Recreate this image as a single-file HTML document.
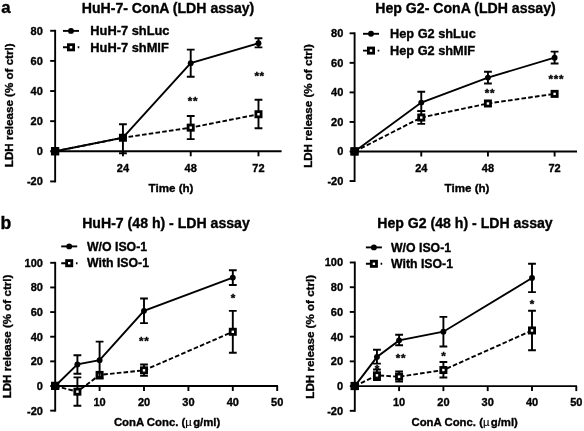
<!DOCTYPE html>
<html><head><meta charset="utf-8"><title>LDH assay</title>
<style>html,body{margin:0;padding:0;background:#fff;}svg{display:block;will-change:transform;}</style></head>
<body><svg width="584" height="431" viewBox="0 0 584 431">
<rect width="584" height="431" fill="#fff"/>
<path d="M55.15 29.83 V182.38" stroke="#000" stroke-width="1.9" fill="none"/>
<path d="M50.15 181.43 H55.15" stroke="#000" stroke-width="1.9" fill="none"/>
<text x="42.85" y="185.33" font-size="11" text-anchor="end" font-family="'Liberation Sans', sans-serif" font-weight="bold" stroke="#000" stroke-width="0.35" stroke-linejoin="round" fill="#000" >-20</text>
<path d="M50.15 151.30 H55.15" stroke="#000" stroke-width="1.9" fill="none"/>
<text x="42.85" y="155.20" font-size="11" text-anchor="end" font-family="'Liberation Sans', sans-serif" font-weight="bold" stroke="#000" stroke-width="0.35" stroke-linejoin="round" fill="#000" >0</text>
<path d="M50.15 121.17 H55.15" stroke="#000" stroke-width="1.9" fill="none"/>
<text x="42.85" y="125.07" font-size="11" text-anchor="end" font-family="'Liberation Sans', sans-serif" font-weight="bold" stroke="#000" stroke-width="0.35" stroke-linejoin="round" fill="#000" >20</text>
<path d="M50.15 91.04 H55.15" stroke="#000" stroke-width="1.9" fill="none"/>
<text x="42.85" y="94.94" font-size="11" text-anchor="end" font-family="'Liberation Sans', sans-serif" font-weight="bold" stroke="#000" stroke-width="0.35" stroke-linejoin="round" fill="#000" >40</text>
<path d="M50.15 60.91 H55.15" stroke="#000" stroke-width="1.9" fill="none"/>
<text x="42.85" y="64.81" font-size="11" text-anchor="end" font-family="'Liberation Sans', sans-serif" font-weight="bold" stroke="#000" stroke-width="0.35" stroke-linejoin="round" fill="#000" >60</text>
<path d="M50.15 30.78 H55.15" stroke="#000" stroke-width="1.9" fill="none"/>
<text x="42.85" y="34.68" font-size="11" text-anchor="end" font-family="'Liberation Sans', sans-serif" font-weight="bold" stroke="#000" stroke-width="0.35" stroke-linejoin="round" fill="#000" >80</text>
<path d="M55.15 151.30 H281.60" stroke="#000" stroke-width="1.9" fill="none"/>
<path d="M122.93 151.30 V156.30" stroke="#000" stroke-width="1.9" fill="none"/>
<text x="122.93" y="171.70" font-size="11" text-anchor="middle" font-family="'Liberation Sans', sans-serif" font-weight="bold" stroke="#000" stroke-width="0.35" stroke-linejoin="round" fill="#000" >24</text>
<path d="M190.71 151.30 V156.30" stroke="#000" stroke-width="1.9" fill="none"/>
<text x="190.71" y="171.70" font-size="11" text-anchor="middle" font-family="'Liberation Sans', sans-serif" font-weight="bold" stroke="#000" stroke-width="0.35" stroke-linejoin="round" fill="#000" >48</text>
<path d="M258.49 151.30 V156.30" stroke="#000" stroke-width="1.9" fill="none"/>
<text x="258.49" y="171.70" font-size="11" text-anchor="middle" font-family="'Liberation Sans', sans-serif" font-weight="bold" stroke="#000" stroke-width="0.35" stroke-linejoin="round" fill="#000" >72</text>
<text x="168.00" y="13.00" font-size="14.1" text-anchor="middle" font-family="'Liberation Sans', sans-serif" font-weight="bold" stroke="#000" stroke-width="0.35" stroke-linejoin="round" fill="#000" >HuH-7- ConA (LDH assay)</text>
<text x="171.00" y="191.90" font-size="11.6" text-anchor="middle" font-family="'Liberation Sans', sans-serif" font-weight="bold" stroke="#000" stroke-width="0.35" stroke-linejoin="round" fill="#000" >Time (h)</text>
<text transform="translate(13.2,105.3) rotate(-90)" font-size="11.6" text-anchor="middle" font-family="'Liberation Sans', sans-serif" font-weight="bold" stroke="#000" stroke-width="0.35" stroke-linejoin="round" fill="#000">LDH release (% of ctrl)</text>
<path d="M55.15 151.30 L122.93 137.74 L190.71 127.65 L258.49 114.24" stroke="#000" stroke-width="1.9" fill="none" stroke-dasharray="4.6 2.2"/>
<path d="M190.71 116.05 V139.10 M186.81 116.05 H194.61 M186.81 139.10 H194.61" stroke="#000" stroke-width="1.9" fill="none"/>
<path d="M258.49 99.78 V128.25 M254.59 99.78 H262.39 M254.59 128.25 H262.39" stroke="#000" stroke-width="1.9" fill="none"/>
<rect x="52.55" y="148.70" width="5.2" height="5.2" fill="#fff" stroke="#000" stroke-width="2.8"/>
<rect x="120.33" y="135.14" width="5.2" height="5.2" fill="#fff" stroke="#000" stroke-width="2.8"/>
<rect x="188.11" y="125.05" width="5.2" height="5.2" fill="#fff" stroke="#000" stroke-width="2.8"/>
<rect x="255.89" y="111.64" width="5.2" height="5.2" fill="#fff" stroke="#000" stroke-width="2.8"/>
<path d="M55.15 151.30 L122.93 137.74 L190.71 63.17 L258.49 43.28" stroke="#000" stroke-width="1.9" fill="none"/>
<path d="M122.93 124.18 V153.26 M119.03 124.18 H126.83 M119.03 153.26 H126.83" stroke="#000" stroke-width="1.9" fill="none"/>
<path d="M190.71 49.61 V76.73 M186.81 49.61 H194.61 M186.81 76.73 H194.61" stroke="#000" stroke-width="1.9" fill="none"/>
<path d="M258.49 38.31 V47.35 M254.59 38.31 H262.39 M254.59 47.35 H262.39" stroke="#000" stroke-width="1.9" fill="none"/>
<circle cx="55.15" cy="151.30" r="2.95" fill="#000"/>
<circle cx="122.93" cy="137.74" r="2.95" fill="#000"/>
<circle cx="190.71" cy="63.17" r="2.95" fill="#000"/>
<circle cx="258.49" cy="43.28" r="2.95" fill="#000"/>
<rect x="50.95" y="147.05" width="8.2" height="8.2" fill="#000"/>
<path d="M63.00 30.90 H79.00" stroke="#000" stroke-width="1.9"/>
<circle cx="71.00" cy="30.90" r="2.95" fill="#000"/>
<text x="90.30" y="35.10" font-size="12.85" text-anchor="start" font-family="'Liberation Sans', sans-serif" font-weight="bold" stroke="#000" stroke-width="0.35" stroke-linejoin="round" fill="#000" >HuH-7 shLuc</text>
<path d="M63.00 47.30 H71.00 M77.70 47.30 H79.30" stroke="#000" stroke-width="1.9"/>
<rect x="68.40" y="44.70" width="5.2" height="5.2" fill="#fff" stroke="#000" stroke-width="2.8"/>
<text x="90.30" y="51.50" font-size="12.85" text-anchor="start" font-family="'Liberation Sans', sans-serif" font-weight="bold" stroke="#000" stroke-width="0.35" stroke-linejoin="round" fill="#000" >HuH-7 shMIF</text>
<text transform="translate(193.00,105.30)" font-size="11.7" letter-spacing="0.65" text-anchor="middle" font-family="'Liberation Sans', sans-serif" font-weight="bold" stroke="#000" stroke-width="0.35" stroke-linejoin="round" fill="#000">**</text>
<text transform="translate(259.60,80.20)" font-size="11.7" letter-spacing="0.65" text-anchor="middle" font-family="'Liberation Sans', sans-serif" font-weight="bold" stroke="#000" stroke-width="0.35" stroke-linejoin="round" fill="#000">**</text>
<path d="M354.60 32.35 V182.00" stroke="#000" stroke-width="1.9" fill="none"/>
<path d="M349.60 181.05 H354.60" stroke="#000" stroke-width="1.9" fill="none"/>
<text x="343.30" y="184.95" font-size="11" text-anchor="end" font-family="'Liberation Sans', sans-serif" font-weight="bold" stroke="#000" stroke-width="0.35" stroke-linejoin="round" fill="#000" >-20</text>
<path d="M349.60 151.50 H354.60" stroke="#000" stroke-width="1.9" fill="none"/>
<text x="343.30" y="155.40" font-size="11" text-anchor="end" font-family="'Liberation Sans', sans-serif" font-weight="bold" stroke="#000" stroke-width="0.35" stroke-linejoin="round" fill="#000" >0</text>
<path d="M349.60 121.95 H354.60" stroke="#000" stroke-width="1.9" fill="none"/>
<text x="343.30" y="125.85" font-size="11" text-anchor="end" font-family="'Liberation Sans', sans-serif" font-weight="bold" stroke="#000" stroke-width="0.35" stroke-linejoin="round" fill="#000" >20</text>
<path d="M349.60 92.40 H354.60" stroke="#000" stroke-width="1.9" fill="none"/>
<text x="343.30" y="96.30" font-size="11" text-anchor="end" font-family="'Liberation Sans', sans-serif" font-weight="bold" stroke="#000" stroke-width="0.35" stroke-linejoin="round" fill="#000" >40</text>
<path d="M349.60 62.85 H354.60" stroke="#000" stroke-width="1.9" fill="none"/>
<text x="343.30" y="66.75" font-size="11" text-anchor="end" font-family="'Liberation Sans', sans-serif" font-weight="bold" stroke="#000" stroke-width="0.35" stroke-linejoin="round" fill="#000" >60</text>
<path d="M349.60 33.30 H354.60" stroke="#000" stroke-width="1.9" fill="none"/>
<text x="343.30" y="37.20" font-size="11" text-anchor="end" font-family="'Liberation Sans', sans-serif" font-weight="bold" stroke="#000" stroke-width="0.35" stroke-linejoin="round" fill="#000" >80</text>
<path d="M354.60 151.50 H577.00" stroke="#000" stroke-width="1.9" fill="none"/>
<path d="M421.27 151.50 V156.50" stroke="#000" stroke-width="1.9" fill="none"/>
<text x="421.27" y="171.70" font-size="11" text-anchor="middle" font-family="'Liberation Sans', sans-serif" font-weight="bold" stroke="#000" stroke-width="0.35" stroke-linejoin="round" fill="#000" >24</text>
<path d="M487.94 151.50 V156.50" stroke="#000" stroke-width="1.9" fill="none"/>
<text x="487.94" y="171.70" font-size="11" text-anchor="middle" font-family="'Liberation Sans', sans-serif" font-weight="bold" stroke="#000" stroke-width="0.35" stroke-linejoin="round" fill="#000" >48</text>
<path d="M554.61 151.50 V156.50" stroke="#000" stroke-width="1.9" fill="none"/>
<text x="554.61" y="171.70" font-size="11" text-anchor="middle" font-family="'Liberation Sans', sans-serif" font-weight="bold" stroke="#000" stroke-width="0.35" stroke-linejoin="round" fill="#000" >72</text>
<text x="465.50" y="13.00" font-size="14.1" text-anchor="middle" font-family="'Liberation Sans', sans-serif" font-weight="bold" stroke="#000" stroke-width="0.35" stroke-linejoin="round" fill="#000" >Hep G2- ConA (LDH assay)</text>
<text x="467.00" y="192.00" font-size="11.6" text-anchor="middle" font-family="'Liberation Sans', sans-serif" font-weight="bold" stroke="#000" stroke-width="0.35" stroke-linejoin="round" fill="#000" >Time (h)</text>
<text transform="translate(312.3,106) rotate(-90)" font-size="11.6" text-anchor="middle" font-family="'Liberation Sans', sans-serif" font-weight="bold" stroke="#000" stroke-width="0.35" stroke-linejoin="round" fill="#000">LDH release (% of ctrl)</text>
<path d="M354.60 151.50 L421.27 117.52 L487.94 103.48 L554.61 93.88" stroke="#000" stroke-width="1.9" fill="none" stroke-dasharray="4.6 2.2"/>
<path d="M421.27 111.16 V123.87 M417.37 111.16 H425.17 M417.37 123.87 H425.17" stroke="#000" stroke-width="1.9" fill="none"/>
<rect x="352.00" y="148.90" width="5.2" height="5.2" fill="#fff" stroke="#000" stroke-width="2.8"/>
<rect x="418.67" y="114.92" width="5.2" height="5.2" fill="#fff" stroke="#000" stroke-width="2.8"/>
<rect x="485.34" y="100.88" width="5.2" height="5.2" fill="#fff" stroke="#000" stroke-width="2.8"/>
<rect x="552.01" y="91.28" width="5.2" height="5.2" fill="#fff" stroke="#000" stroke-width="2.8"/>
<path d="M354.60 151.50 L421.27 102.59 L487.94 77.62 L554.61 57.68" stroke="#000" stroke-width="1.9" fill="none"/>
<path d="M421.27 91.81 V111.16 M417.37 91.81 H425.17 M417.37 111.16 H425.17" stroke="#000" stroke-width="1.9" fill="none"/>
<path d="M487.94 71.72 V83.53 M484.04 71.72 H491.84 M484.04 83.53 H491.84" stroke="#000" stroke-width="1.9" fill="none"/>
<path d="M554.61 51.62 V63.44 M550.71 51.62 H558.51 M550.71 63.44 H558.51" stroke="#000" stroke-width="1.9" fill="none"/>
<circle cx="354.60" cy="151.50" r="2.95" fill="#000"/>
<circle cx="421.27" cy="102.59" r="2.95" fill="#000"/>
<circle cx="487.94" cy="77.62" r="2.95" fill="#000"/>
<circle cx="554.61" cy="57.68" r="2.95" fill="#000"/>
<rect x="350.40" y="147.25" width="8.2" height="8.2" fill="#000"/>
<path d="M363.00 33.80 H379.00" stroke="#000" stroke-width="1.9"/>
<circle cx="371.00" cy="33.80" r="2.95" fill="#000"/>
<text x="390.00" y="38.00" font-size="12.75" text-anchor="start" font-family="'Liberation Sans', sans-serif" font-weight="bold" stroke="#000" stroke-width="0.35" stroke-linejoin="round" fill="#000" >Hep G2 shLuc</text>
<path d="M363.00 50.60 H371.00 M377.70 50.60 H379.30" stroke="#000" stroke-width="1.9"/>
<rect x="368.40" y="48.00" width="5.2" height="5.2" fill="#fff" stroke="#000" stroke-width="2.8"/>
<text x="390.00" y="54.80" font-size="12.75" text-anchor="start" font-family="'Liberation Sans', sans-serif" font-weight="bold" stroke="#000" stroke-width="0.35" stroke-linejoin="round" fill="#000" >Hep G2 shMIF</text>
<text transform="translate(489.90,97.20)" font-size="11.7" letter-spacing="0.65" text-anchor="middle" font-family="'Liberation Sans', sans-serif" font-weight="bold" stroke="#000" stroke-width="0.35" stroke-linejoin="round" fill="#000">**</text>
<text transform="translate(556.30,83.10)" font-size="11.7" letter-spacing="0.65" text-anchor="middle" font-family="'Liberation Sans', sans-serif" font-weight="bold" stroke="#000" stroke-width="0.35" stroke-linejoin="round" fill="#000">***</text>
<path d="M55.20 261.85 V411.59" stroke="#000" stroke-width="1.9" fill="none"/>
<path d="M50.20 410.64 H55.20" stroke="#000" stroke-width="1.9" fill="none"/>
<text x="42.90" y="414.54" font-size="11" text-anchor="end" font-family="'Liberation Sans', sans-serif" font-weight="bold" stroke="#000" stroke-width="0.35" stroke-linejoin="round" fill="#000" >-20</text>
<path d="M50.20 386.00 H55.20" stroke="#000" stroke-width="1.9" fill="none"/>
<text x="42.90" y="389.90" font-size="11" text-anchor="end" font-family="'Liberation Sans', sans-serif" font-weight="bold" stroke="#000" stroke-width="0.35" stroke-linejoin="round" fill="#000" >0</text>
<path d="M50.20 361.36 H55.20" stroke="#000" stroke-width="1.9" fill="none"/>
<text x="42.90" y="365.26" font-size="11" text-anchor="end" font-family="'Liberation Sans', sans-serif" font-weight="bold" stroke="#000" stroke-width="0.35" stroke-linejoin="round" fill="#000" >20</text>
<path d="M50.20 336.72 H55.20" stroke="#000" stroke-width="1.9" fill="none"/>
<text x="42.90" y="340.62" font-size="11" text-anchor="end" font-family="'Liberation Sans', sans-serif" font-weight="bold" stroke="#000" stroke-width="0.35" stroke-linejoin="round" fill="#000" >40</text>
<path d="M50.20 312.08 H55.20" stroke="#000" stroke-width="1.9" fill="none"/>
<text x="42.90" y="315.98" font-size="11" text-anchor="end" font-family="'Liberation Sans', sans-serif" font-weight="bold" stroke="#000" stroke-width="0.35" stroke-linejoin="round" fill="#000" >60</text>
<path d="M50.20 287.44 H55.20" stroke="#000" stroke-width="1.9" fill="none"/>
<text x="42.90" y="291.34" font-size="11" text-anchor="end" font-family="'Liberation Sans', sans-serif" font-weight="bold" stroke="#000" stroke-width="0.35" stroke-linejoin="round" fill="#000" >80</text>
<path d="M50.20 262.80 H55.20" stroke="#000" stroke-width="1.9" fill="none"/>
<text x="42.90" y="266.70" font-size="11" text-anchor="end" font-family="'Liberation Sans', sans-serif" font-weight="bold" stroke="#000" stroke-width="0.35" stroke-linejoin="round" fill="#000" >100</text>
<path d="M55.20 386.00 H278.00" stroke="#000" stroke-width="1.9" fill="none"/>
<path d="M99.60 386.00 V391.00" stroke="#000" stroke-width="1.9" fill="none"/>
<text x="99.60" y="406.10" font-size="11" text-anchor="middle" font-family="'Liberation Sans', sans-serif" font-weight="bold" stroke="#000" stroke-width="0.35" stroke-linejoin="round" fill="#000" >10</text>
<path d="M144.00 386.00 V391.00" stroke="#000" stroke-width="1.9" fill="none"/>
<text x="144.00" y="406.10" font-size="11" text-anchor="middle" font-family="'Liberation Sans', sans-serif" font-weight="bold" stroke="#000" stroke-width="0.35" stroke-linejoin="round" fill="#000" >20</text>
<path d="M188.40 386.00 V391.00" stroke="#000" stroke-width="1.9" fill="none"/>
<text x="188.40" y="406.10" font-size="11" text-anchor="middle" font-family="'Liberation Sans', sans-serif" font-weight="bold" stroke="#000" stroke-width="0.35" stroke-linejoin="round" fill="#000" >30</text>
<path d="M232.80 386.00 V391.00" stroke="#000" stroke-width="1.9" fill="none"/>
<text x="232.80" y="406.10" font-size="11" text-anchor="middle" font-family="'Liberation Sans', sans-serif" font-weight="bold" stroke="#000" stroke-width="0.35" stroke-linejoin="round" fill="#000" >40</text>
<path d="M277.20 386.00 V391.00" stroke="#000" stroke-width="1.9" fill="none"/>
<text x="277.20" y="406.10" font-size="11" text-anchor="middle" font-family="'Liberation Sans', sans-serif" font-weight="bold" stroke="#000" stroke-width="0.35" stroke-linejoin="round" fill="#000" >50</text>
<text x="166.00" y="228.00" font-size="14.1" text-anchor="middle" font-family="'Liberation Sans', sans-serif" font-weight="bold" stroke="#000" stroke-width="0.35" stroke-linejoin="round" fill="#000" >HuH-7 (48 h) - LDH assay</text>
<text x="113.90" y="426.20" font-size="11.35" text-anchor="start" font-family="'Liberation Sans', sans-serif" font-weight="bold" stroke="#000" stroke-width="0.35" stroke-linejoin="round" fill="#000">ConA Conc. (<tspan font-weight="normal" stroke-width="0.15">µ</tspan><tspan dx="1.3">g/ml)</tspan></text>
<text transform="translate(11.3,336.5) rotate(-90)" font-size="11.6" text-anchor="middle" font-family="'Liberation Sans', sans-serif" font-weight="bold" stroke="#000" stroke-width="0.35" stroke-linejoin="round" fill="#000">LDH release (% of ctrl)</text>
<path d="M55.20 386.00 L77.40 391.67 L99.60 374.91 L144.00 370.35 L232.80 331.79" stroke="#000" stroke-width="1.9" fill="none" stroke-dasharray="4.6 2.2"/>
<path d="M77.40 377.38 V405.71 M73.50 377.38 H81.30 M73.50 405.71 H81.30" stroke="#000" stroke-width="1.9" fill="none"/>
<path d="M144.00 364.44 V375.90 M140.10 364.44 H147.90 M140.10 375.90 H147.90" stroke="#000" stroke-width="1.9" fill="none"/>
<path d="M232.80 310.85 V352.74 M228.90 310.85 H236.70 M228.90 352.74 H236.70" stroke="#000" stroke-width="1.9" fill="none"/>
<rect x="52.60" y="383.40" width="5.2" height="5.2" fill="#fff" stroke="#000" stroke-width="2.8"/>
<rect x="74.80" y="389.07" width="5.2" height="5.2" fill="#fff" stroke="#000" stroke-width="2.8"/>
<rect x="97.00" y="372.31" width="5.2" height="5.2" fill="#fff" stroke="#000" stroke-width="2.8"/>
<rect x="141.40" y="367.75" width="5.2" height="5.2" fill="#fff" stroke="#000" stroke-width="2.8"/>
<rect x="230.20" y="329.19" width="5.2" height="5.2" fill="#fff" stroke="#000" stroke-width="2.8"/>
<path d="M55.20 386.00 L77.40 364.44 L99.60 360.13 L144.00 310.85 L232.80 277.58" stroke="#000" stroke-width="1.9" fill="none"/>
<path d="M77.40 355.20 V373.68 M73.50 355.20 H81.30 M73.50 373.68 H81.30" stroke="#000" stroke-width="1.9" fill="none"/>
<path d="M99.60 341.65 V378.61 M95.70 341.65 H103.50 M95.70 378.61 H103.50" stroke="#000" stroke-width="1.9" fill="none"/>
<path d="M144.00 298.53 V323.17 M140.10 298.53 H147.90 M140.10 323.17 H147.90" stroke="#000" stroke-width="1.9" fill="none"/>
<path d="M232.80 270.19 V284.98 M228.90 270.19 H236.70 M228.90 284.98 H236.70" stroke="#000" stroke-width="1.9" fill="none"/>
<circle cx="55.20" cy="386.00" r="2.95" fill="#000"/>
<circle cx="77.40" cy="364.44" r="2.95" fill="#000"/>
<circle cx="99.60" cy="360.13" r="2.95" fill="#000"/>
<circle cx="144.00" cy="310.85" r="2.95" fill="#000"/>
<circle cx="232.80" cy="277.58" r="2.95" fill="#000"/>
<rect x="51.00" y="381.75" width="8.2" height="8.2" fill="#000"/>
<path d="M61.20 246.40 H77.20" stroke="#000" stroke-width="1.9"/>
<circle cx="69.20" cy="246.40" r="2.95" fill="#000"/>
<text x="87.00" y="250.60" font-size="12.3" text-anchor="start" font-family="'Liberation Sans', sans-serif" font-weight="bold" stroke="#000" stroke-width="0.35" stroke-linejoin="round" fill="#000" >W/O ISO-1</text>
<path d="M61.20 263.20 H69.20 M75.90 263.20 H77.50" stroke="#000" stroke-width="1.9"/>
<rect x="66.60" y="260.60" width="5.2" height="5.2" fill="#fff" stroke="#000" stroke-width="2.8"/>
<text x="87.00" y="267.40" font-size="12.3" text-anchor="start" font-family="'Liberation Sans', sans-serif" font-weight="bold" stroke="#000" stroke-width="0.35" stroke-linejoin="round" fill="#000" >With ISO-1</text>
<text transform="translate(144.30,345.20)" font-size="11.7" letter-spacing="0.65" text-anchor="middle" font-family="'Liberation Sans', sans-serif" font-weight="bold" stroke="#000" stroke-width="0.35" stroke-linejoin="round" fill="#000">**</text>
<text transform="translate(233.30,302.20)" font-size="11.7" letter-spacing="0.65" text-anchor="middle" font-family="'Liberation Sans', sans-serif" font-weight="bold" stroke="#000" stroke-width="0.35" stroke-linejoin="round" fill="#000">*</text>
<path d="M354.80 261.55 V411.77" stroke="#000" stroke-width="1.9" fill="none"/>
<path d="M349.80 410.82 H354.80" stroke="#000" stroke-width="1.9" fill="none"/>
<text x="343.10" y="414.72" font-size="11" text-anchor="end" font-family="'Liberation Sans', sans-serif" font-weight="bold" stroke="#000" stroke-width="0.35" stroke-linejoin="round" fill="#000" >-20</text>
<path d="M349.80 386.10 H354.80" stroke="#000" stroke-width="1.9" fill="none"/>
<text x="343.10" y="390.00" font-size="11" text-anchor="end" font-family="'Liberation Sans', sans-serif" font-weight="bold" stroke="#000" stroke-width="0.35" stroke-linejoin="round" fill="#000" >0</text>
<path d="M349.80 361.38 H354.80" stroke="#000" stroke-width="1.9" fill="none"/>
<text x="343.10" y="365.28" font-size="11" text-anchor="end" font-family="'Liberation Sans', sans-serif" font-weight="bold" stroke="#000" stroke-width="0.35" stroke-linejoin="round" fill="#000" >20</text>
<path d="M349.80 336.66 H354.80" stroke="#000" stroke-width="1.9" fill="none"/>
<text x="343.10" y="340.56" font-size="11" text-anchor="end" font-family="'Liberation Sans', sans-serif" font-weight="bold" stroke="#000" stroke-width="0.35" stroke-linejoin="round" fill="#000" >40</text>
<path d="M349.80 311.94 H354.80" stroke="#000" stroke-width="1.9" fill="none"/>
<text x="343.10" y="315.84" font-size="11" text-anchor="end" font-family="'Liberation Sans', sans-serif" font-weight="bold" stroke="#000" stroke-width="0.35" stroke-linejoin="round" fill="#000" >60</text>
<path d="M349.80 287.22 H354.80" stroke="#000" stroke-width="1.9" fill="none"/>
<text x="343.10" y="291.12" font-size="11" text-anchor="end" font-family="'Liberation Sans', sans-serif" font-weight="bold" stroke="#000" stroke-width="0.35" stroke-linejoin="round" fill="#000" >80</text>
<path d="M349.80 262.50 H354.80" stroke="#000" stroke-width="1.9" fill="none"/>
<text x="343.10" y="266.40" font-size="11" text-anchor="end" font-family="'Liberation Sans', sans-serif" font-weight="bold" stroke="#000" stroke-width="0.35" stroke-linejoin="round" fill="#000" >100</text>
<path d="M354.80 386.10 H577.00" stroke="#000" stroke-width="1.9" fill="none"/>
<path d="M399.10 386.10 V391.10" stroke="#000" stroke-width="1.9" fill="none"/>
<text x="399.10" y="405.90" font-size="11" text-anchor="middle" font-family="'Liberation Sans', sans-serif" font-weight="bold" stroke="#000" stroke-width="0.35" stroke-linejoin="round" fill="#000" >10</text>
<path d="M443.40 386.10 V391.10" stroke="#000" stroke-width="1.9" fill="none"/>
<text x="443.40" y="405.90" font-size="11" text-anchor="middle" font-family="'Liberation Sans', sans-serif" font-weight="bold" stroke="#000" stroke-width="0.35" stroke-linejoin="round" fill="#000" >20</text>
<path d="M487.70 386.10 V391.10" stroke="#000" stroke-width="1.9" fill="none"/>
<text x="487.70" y="405.90" font-size="11" text-anchor="middle" font-family="'Liberation Sans', sans-serif" font-weight="bold" stroke="#000" stroke-width="0.35" stroke-linejoin="round" fill="#000" >30</text>
<path d="M532.00 386.10 V391.10" stroke="#000" stroke-width="1.9" fill="none"/>
<text x="532.00" y="405.90" font-size="11" text-anchor="middle" font-family="'Liberation Sans', sans-serif" font-weight="bold" stroke="#000" stroke-width="0.35" stroke-linejoin="round" fill="#000" >40</text>
<path d="M576.30 386.10 V391.10" stroke="#000" stroke-width="1.9" fill="none"/>
<text x="576.30" y="405.90" font-size="11" text-anchor="middle" font-family="'Liberation Sans', sans-serif" font-weight="bold" stroke="#000" stroke-width="0.35" stroke-linejoin="round" fill="#000" >50</text>
<text x="465.00" y="228.00" font-size="14.1" text-anchor="middle" font-family="'Liberation Sans', sans-serif" font-weight="bold" stroke="#000" stroke-width="0.35" stroke-linejoin="round" fill="#000" >Hep G2 (48 h) - LDH assay</text>
<text x="411.50" y="426.20" font-size="11.35" text-anchor="start" font-family="'Liberation Sans', sans-serif" font-weight="bold" stroke="#000" stroke-width="0.35" stroke-linejoin="round" fill="#000">ConA Conc. (<tspan font-weight="normal" stroke-width="0.15">µ</tspan><tspan dx="1.3">g/ml)</tspan></text>
<text transform="translate(314.2,336.8) rotate(-90)" font-size="11.6" text-anchor="middle" font-family="'Liberation Sans', sans-serif" font-weight="bold" stroke="#000" stroke-width="0.35" stroke-linejoin="round" fill="#000">LDH release (% of ctrl)</text>
<path d="M354.80 386.10 L376.95 375.35 L399.10 376.71 L443.40 370.03 L532.00 330.48" stroke="#000" stroke-width="1.9" fill="none" stroke-dasharray="4.6 2.2"/>
<path d="M376.95 369.54 V380.04 M373.05 369.54 H380.85 M373.05 380.04 H380.85" stroke="#000" stroke-width="1.9" fill="none"/>
<path d="M399.10 371.52 V381.65 M395.20 371.52 H403.00 M395.20 381.65 H403.00" stroke="#000" stroke-width="1.9" fill="none"/>
<path d="M443.40 362.00 V377.45 M439.50 362.00 H447.30 M439.50 377.45 H447.30" stroke="#000" stroke-width="1.9" fill="none"/>
<path d="M532.00 310.70 V350.26 M528.10 310.70 H535.90 M528.10 350.26 H535.90" stroke="#000" stroke-width="1.9" fill="none"/>
<rect x="352.20" y="383.50" width="5.2" height="5.2" fill="#fff" stroke="#000" stroke-width="2.8"/>
<rect x="374.35" y="372.75" width="5.2" height="5.2" fill="#fff" stroke="#000" stroke-width="2.8"/>
<rect x="396.50" y="374.11" width="5.2" height="5.2" fill="#fff" stroke="#000" stroke-width="2.8"/>
<rect x="440.80" y="367.43" width="5.2" height="5.2" fill="#fff" stroke="#000" stroke-width="2.8"/>
<rect x="529.40" y="327.88" width="5.2" height="5.2" fill="#fff" stroke="#000" stroke-width="2.8"/>
<path d="M354.80 386.10 L376.95 357.05 L399.10 340.37 L443.40 331.72 L532.00 277.95" stroke="#000" stroke-width="1.9" fill="none"/>
<path d="M376.95 349.76 V363.60 M373.05 349.76 H380.85 M373.05 363.60 H380.85" stroke="#000" stroke-width="1.9" fill="none"/>
<path d="M399.10 334.81 V345.31 M395.20 334.81 H403.00 M395.20 345.31 H403.00" stroke="#000" stroke-width="1.9" fill="none"/>
<path d="M443.40 316.88 V346.55 M439.50 316.88 H447.30 M439.50 346.55 H447.30" stroke="#000" stroke-width="1.9" fill="none"/>
<path d="M532.00 263.74 V292.16 M528.10 263.74 H535.90 M528.10 292.16 H535.90" stroke="#000" stroke-width="1.9" fill="none"/>
<circle cx="354.80" cy="386.10" r="2.95" fill="#000"/>
<circle cx="376.95" cy="357.05" r="2.95" fill="#000"/>
<circle cx="399.10" cy="340.37" r="2.95" fill="#000"/>
<circle cx="443.40" cy="331.72" r="2.95" fill="#000"/>
<circle cx="532.00" cy="277.95" r="2.95" fill="#000"/>
<rect x="350.60" y="381.85" width="8.2" height="8.2" fill="#000"/>
<path d="M365.90 247.40 H381.90" stroke="#000" stroke-width="1.9"/>
<circle cx="373.90" cy="247.40" r="2.95" fill="#000"/>
<text x="391.00" y="251.60" font-size="12.3" text-anchor="start" font-family="'Liberation Sans', sans-serif" font-weight="bold" stroke="#000" stroke-width="0.35" stroke-linejoin="round" fill="#000" >W/O ISO-1</text>
<path d="M365.90 263.80 H373.90 M380.60 263.80 H382.20" stroke="#000" stroke-width="1.9"/>
<rect x="371.30" y="261.20" width="5.2" height="5.2" fill="#fff" stroke="#000" stroke-width="2.8"/>
<text x="391.00" y="268.00" font-size="12.3" text-anchor="start" font-family="'Liberation Sans', sans-serif" font-weight="bold" stroke="#000" stroke-width="0.35" stroke-linejoin="round" fill="#000" >With ISO-1</text>
<text transform="translate(377.30,373.00)" font-size="11.7" letter-spacing="0.65" text-anchor="middle" font-family="'Liberation Sans', sans-serif" font-weight="bold" stroke="#000" stroke-width="0.35" stroke-linejoin="round" fill="#000">*</text>
<text transform="translate(400.90,362.20)" font-size="11.7" letter-spacing="0.65" text-anchor="middle" font-family="'Liberation Sans', sans-serif" font-weight="bold" stroke="#000" stroke-width="0.35" stroke-linejoin="round" fill="#000">**</text>
<text transform="translate(443.80,359.70)" font-size="11.7" letter-spacing="0.65" text-anchor="middle" font-family="'Liberation Sans', sans-serif" font-weight="bold" stroke="#000" stroke-width="0.35" stroke-linejoin="round" fill="#000">*</text>
<text transform="translate(532.30,308.20)" font-size="11.7" letter-spacing="0.65" text-anchor="middle" font-family="'Liberation Sans', sans-serif" font-weight="bold" stroke="#000" stroke-width="0.35" stroke-linejoin="round" fill="#000">*</text>
<text x="1.20" y="13.40" font-size="16.8" text-anchor="start" font-family="'Liberation Sans', sans-serif" font-weight="bold" stroke="#000" stroke-width="0.35" stroke-linejoin="round" fill="#000" >a</text>
<text x="0.60" y="228.60" font-size="17.6" text-anchor="start" font-family="'Liberation Sans', sans-serif" font-weight="bold" stroke="#000" stroke-width="0.35" stroke-linejoin="round" fill="#000" >b</text>
</svg></body></html>
